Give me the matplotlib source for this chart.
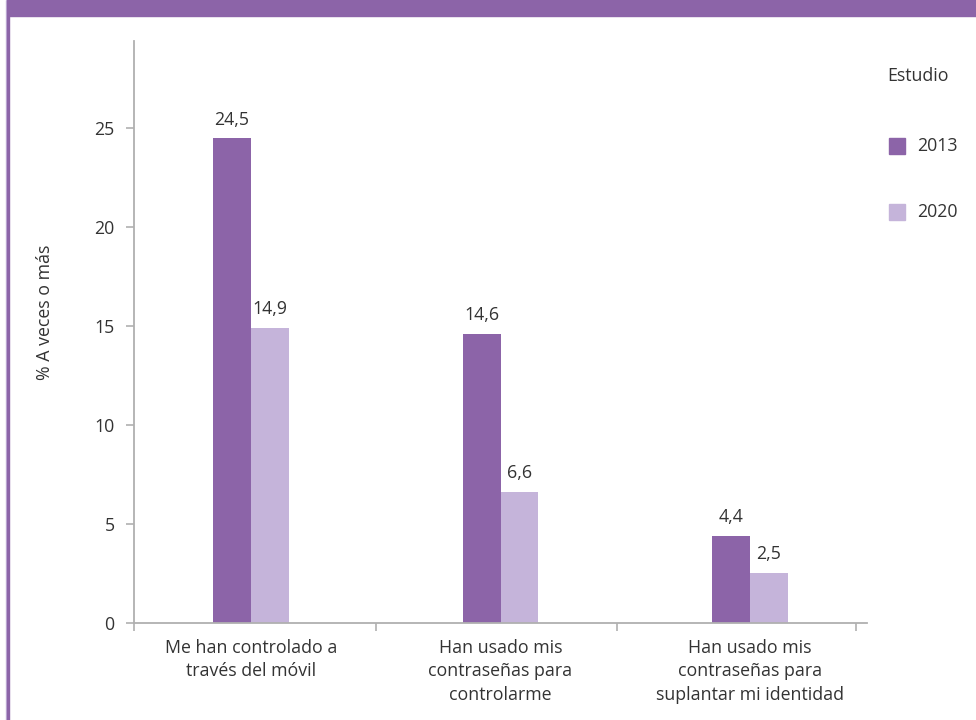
import matplotlib
matplotlib.use("Agg")
import matplotlib.pyplot as plt
from matplotlib.patches import Rectangle
import numpy as np

categories = ["Me han controlado a\ntravés del móvil",
              "Han usado mis\ncontraseñas para\ncontrolarme",
              "Han usado mis\ncontraseñas para\nsuplantar mi identidad"]
years = ["2013", "2020"]
vals_2013 = [24.5, 14.6, 4.4]
vals_2020 = [14.9, 6.6, 2.5]
yticks = [0, 5, 10, 15, 20, 25]

dark = "#8c64a8"
light = "#c5b4da"
txt = "#333333"
grey = "#b0b0b0"
fs = 12.8

plt.rcParams['font.family'] = ['Open Sans', 'DejaVu Sans']

fig = plt.figure(figsize=(9.76, 7.2), dpi=100)
ax = fig.add_axes([134/976, 1 - 622.5/720, (867 - 134)/976, (622.5 - 40.5)/720])

x = np.arange(len(categories))
w = 0.152
b1 = ax.bar(x - w/2, vals_2013, w, color=dark, label=years[0])
b2 = ax.bar(x + w/2, vals_2020, w, color=light, label=years[1])
for bars in (b1, b2):
    ax.bar_label(bars, labels=[f"{v:.1f}".replace(".", ",") for v in bars.datavalues],
                 padding=7, fontsize=fs, color=txt)

ax.set_xlim(-0.469, 2.469)
ax.set_ylim(0, 29.45)
ax.set_yticks(yticks)
ax.set_yticklabels([str(t) for t in yticks], fontsize=fs, color=txt)

# boundary ticks (major, no labels) and category labels (minor, no marks)
ax.set_xticks([-0.469, 0.501, 1.467, 2.425])
ax.set_xticklabels([])
ax.set_xticks(x, categories, minor=True)
ax.tick_params(axis="x", which="major", length=6, color=grey, width=1.2)
ax.tick_params(axis="x", which="minor", length=0, pad=12, labelsize=fs, labelcolor=txt)
for lab in ax.get_xticklabels(minor=True):
    lab.set_linespacing(1.38)
ax.tick_params(axis="y", length=6, color=grey, width=1.2, pad=8)

for s in ["top", "right"]:
    ax.spines[s].set_visible(False)
for s in ["left", "bottom"]:
    ax.spines[s].set_color(grey)
    ax.spines[s].set_linewidth(1.3)

fig.text(45/976, 1 - 312/720, "% A veces o más", rotation=90, ha="center", va="center",
         fontsize=fs, color=txt)

# legend drawn by hand on the right
fig.text(887/976, 1 - 76/720, "Estudio", ha="left", va="center", fontsize=fs, color=txt)
for i, (yr, col) in enumerate(zip(years, [dark, light])):
    yc = 146 + i * 66
    fig.patches.append(Rectangle((889/976, 1 - (yc + 8)/720), 16/976, 16/720,
                                 transform=fig.transFigure, color=col))
    fig.text(917/976, 1 - yc/720, yr, ha="left", va="center", fontsize=fs, color=txt)

# frame decoration: top band and left stripes
fig.patches.append(Rectangle((9/976, 1 - 15.7/720), 1, 15.7/720, transform=fig.transFigure,
                             color=dark, zorder=0))
fig.patches.append(Rectangle((6/976, 0), 1.2/976, 1, transform=fig.transFigure, color=light))
fig.patches.append(Rectangle((7.2/976, 0), 2/976, 1, transform=fig.transFigure, color=dark))

fig.savefig("out.png", dpi=100)
